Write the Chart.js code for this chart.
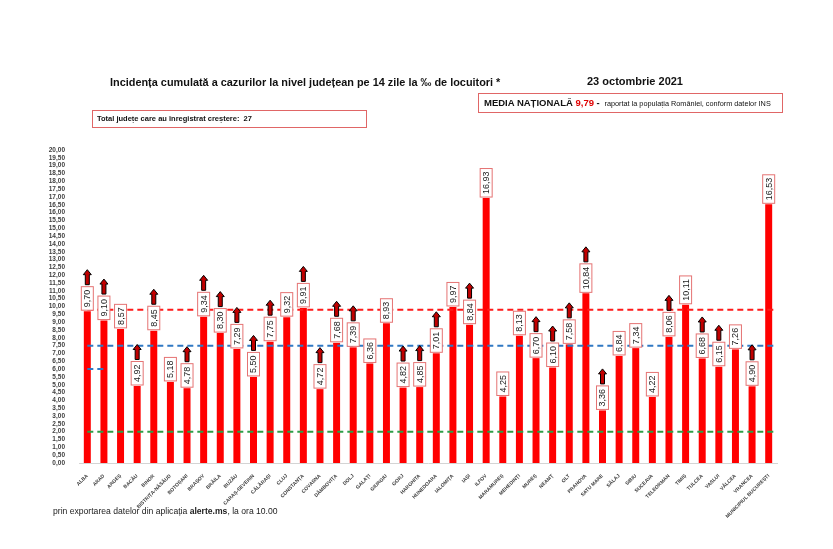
<!DOCTYPE html>
<html>
<head>
<meta charset="utf-8">
<script src="https://cdn.jsdelivr.net/npm/chart.js@4/dist/chart.umd.min.js"></script>
<style>
    body { margin: 0; background: #fff; width: 833px; height: 549px; overflow: hidden; position: relative;
           font-family: "Liberation Sans Narrow", "Liberation Sans", Arial, sans-serif; }
    #chart { position: absolute; left: 0; top: 0; }
    .txt { position: absolute; white-space: nowrap; color: #111; }
    .box { position: absolute; border: 1px solid #e06666; box-sizing: border-box; background: #fff; }
</style>
</head>
<body>
<canvas id="chart" width="833" height="549"></canvas>

<div class="txt" style="left:110px;top:76px;font-size:10.9px;font-weight:bold;">Incidența cumulată a cazurilor la nivel județean pe 14 zile la ‰ de locuitori *</div>
<div class="txt" style="left:587px;top:75px;font-size:11px;font-weight:bold;">23 octombrie 2021</div>

<div class="box" style="left:478px;top:93px;width:305px;height:20px;">
    <div class="txt" style="left:5px;top:3px;font-size:9.5px;">
        <b>MEDIA NAȚIONALĂ <span style="color:#e00000">9,79</span> -</b>
        <span style="font-size:7.3px;">&nbsp;raportat la populația României, conform datelor INS</span>
    </div>
</div>

<div class="box" style="left:92px;top:110px;width:275px;height:18px;">
    <div class="txt" style="left:4px;top:3px;font-size:7.5px;font-weight:bold;">Total județe care au înregistrat creștere:&nbsp; 27</div>
</div>

<div class="txt" style="left:53px;top:506px;font-family:'Liberation Sans',Arial,sans-serif;font-size:8.6px;color:#222;">prin exportarea datelor din aplicația <b>alerte.ms</b>, la ora 10.00</div>

<script>
// counties, in the order of the original chart
const counties = [
    "ALBA", "ARAD", "ARGEȘ", "BACĂU", "BIHOR", "BISTRIȚA-NĂSĂUD", "BOTOȘANI", "BRAȘOV",
    "BRĂILA", "BUZĂU", "CARAȘ-SEVERIN", "CĂLĂRAȘI", "CLUJ", "CONSTANȚA", "COVASNA",
    "DÂMBOVIȚA", "DOLJ", "GALAȚI", "GIURGIU", "GORJ", "HARGHITA", "HUNEDOARA", "IALOMIȚA",
    "IAȘI", "ILFOV", "MARAMUREȘ", "MEHEDINȚI", "MUREȘ", "NEAMȚ", "OLT", "PRAHOVA",
    "SATU MARE", "SĂLAJ", "SIBIU", "SUCEAVA", "TELEORMAN", "TIMIȘ", "TULCEA", "VASLUI",
    "VÂLCEA", "VRANCEA", "MUNICIPIUL BUCUREȘTI"
];

// incidence per 1000 inhabitants, 14 days
const incidence = [
    9.70, 9.10, 8.57, 4.92, 8.45, 5.18, 4.78, 9.34,
    8.30, 7.29, 5.50, 7.75, 9.32, 9.91, 4.72,
    7.68, 7.39, 6.36, 8.93, 4.82, 4.85, 7.01, 9.97,
    8.84, 16.93, 4.25, 8.13, 6.70, 6.10, 7.58, 10.84,
    3.36, 6.84, 7.34, 4.22, 8.06, 10.11, 6.68, 6.15,
    7.26, 4.90, 16.53
];

// 1 = county recorded an increase (red arrow)
const increase = [
    1, 1, 0, 1, 1, 0, 1, 1,
    1, 1, 1, 1, 0, 1, 1,
    1, 1, 0, 0, 1, 1, 1, 0,
    1, 0, 0, 0, 1, 1, 1, 1,
    1, 0, 0, 0, 1, 0, 1, 1,
    0, 1, 0
];

// dashed threshold lines
const thresholdValues = [9.79, 7.5, 2.0];
const thresholdColors = ["#ff1a1a", "#2f78c4", "#2e9e48"];
const shortMarkValue = 6.0;

const fmt = v => v.toFixed(2).replace(".", ",");

const overlayPlugin = {
    id: "overlay",
    afterDatasetsDraw(chart) {
        const { ctx, chartArea, scales: { x, y } } = chart;
        const meta = chart.getDatasetMeta(0);
        const startX = x.getPixelForValue(0);

        ctx.save();
        ctx.lineWidth = 2;
        ctx.setLineDash([6, 4]);
        thresholdValues.forEach((v, i) => {
            const py = y.getPixelForValue(v);
            ctx.strokeStyle = thresholdColors[i];
            ctx.beginPath();
            ctx.moveTo(startX, py);
            ctx.lineTo(chartArea.right, py);
            ctx.stroke();
        });

        // small blue mark near the first bars
        const my = y.getPixelForValue(shortMarkValue);
        ctx.strokeStyle = "#2f78c4";
        ctx.beginPath();
        ctx.moveTo(startX, my);
        ctx.lineTo(x.getPixelForValue(1) + 2, my);
        ctx.stroke();
        ctx.setLineDash([]);

        // value labels + arrows
        ctx.font = "9px 'Liberation Sans Narrow', 'Liberation Sans', Arial, sans-serif";
        meta.data.forEach((bar, i) => {
            const label = fmt(incidence[i]);
            const tw = ctx.measureText(label).width;
            const bw = 12;
            const bh = tw + 6;
            const bottom = bar.y - 1;
            const top = bottom - bh;

            ctx.fillStyle = "#fff";
            ctx.fillRect(bar.x - bw / 2, top, bw, bh);
            ctx.strokeStyle = "#e57373";
            ctx.lineWidth = 1;
            ctx.strokeRect(bar.x - bw / 2, top, bw, bh);

            ctx.save();
            ctx.translate(bar.x, top + bh / 2);
            ctx.rotate(-Math.PI / 2);
            ctx.textAlign = "center";
            ctx.textBaseline = "middle";
            ctx.fillStyle = "#222";
            ctx.fillText(label, 0, 0.5);
            ctx.restore();

            if (increase[i]) drawArrow(ctx, bar.x, top - 2);
        });
        ctx.restore();
    }
};

function drawArrow(ctx, cx, base) {
    const h = 15, headH = 5, shaftW = 4, headW = 8;
    ctx.beginPath();
    ctx.moveTo(cx - shaftW / 2, base);
    ctx.lineTo(cx - shaftW / 2, base - h + headH);
    ctx.lineTo(cx - headW / 2, base - h + headH);
    ctx.lineTo(cx, base - h);
    ctx.lineTo(cx + headW / 2, base - h + headH);
    ctx.lineTo(cx + shaftW / 2, base - h + headH);
    ctx.lineTo(cx + shaftW / 2, base);
    ctx.closePath();
    ctx.fillStyle = "#c00000";
    ctx.fill();
    ctx.strokeStyle = "#000";
    ctx.lineWidth = 1;
    ctx.stroke();
}

new Chart(document.getElementById("chart"), {
    type: "bar",
    data: {
        labels: counties,
        datasets: [{
            data: incidence,
            backgroundColor: "#ff0000",
            barPercentage: 0.42,
            categoryPercentage: 1
        }]
    },
    options: {
        responsive: false,
        animation: false,
        layout: { padding: { top: 150, right: 56, left: 0, bottom: 0 } },
        plugins: {
            legend: { display: false },
            tooltip: { enabled: false }
        },
        scales: {
            x: {
                grid: { display: false },
                border: { display: true, color: "#d4d4d4" },
                ticks: {
                    autoSkip: false,
                    minRotation: 45,
                    maxRotation: 45,
                    padding: 2,
                    color: "#404040",
                    font: { size: 5, weight: "bold", family: "'Liberation Sans', Arial, sans-serif" }
                },
                afterFit: scale => { scale.height = 86; }
            },
            y: {
                min: 0,
                max: 20,
                grid: { display: false },
                border: { display: false },
                ticks: {
                    stepSize: 0.5,
                    autoSkip: false,
                    padding: 6,
                    color: "#404040",
                    font: { size: 6.5, weight: "bold", family: "'Liberation Sans Narrow', 'Liberation Sans', Arial, sans-serif" },
                    callback: v => fmt(v)
                },
                afterFit: scale => { scale.width = 79; }
            }
        }
    },
    plugins: [overlayPlugin]
});
</script>
</body>
</html>
